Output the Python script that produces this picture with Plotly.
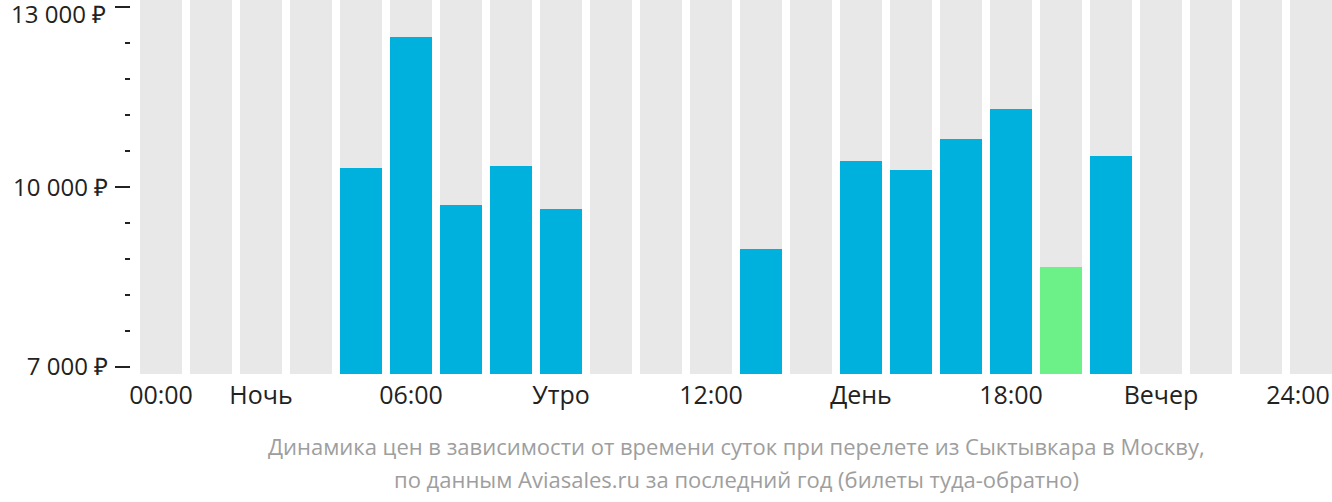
import plotly.graph_objects as go

hours = list(range(24))
prices = [None, None, None, None, 10319, 12505, 9702, 10353, 9636, None, None, None,
          8968, None, 10436, 10286, 10803, 11304, 8668, 10520, None, None, None, None]
cheapest_hour = 18

tick_pos = [0, 2, 5, 8, 11, 14, 17, 20, 22.74]
tick_text = ["00:00", "Ночь", "06:00", "Утро", "12:00", "День", "18:00", "Вечер", "24:00"]

y_ticks = [7000, 10000, 13000]
y_tick_text = ["7 000 ₽", "10 000 ₽", "13 000 ₽"]

Y_MIN = 6883
Y_MAX = 13122

caption_lines = [
    "Динамика цен в зависимости от времени суток при перелете из Сыктывкара в Москву,",
    "по данным Aviasales.ru за последний год (билеты туда-обратно)",
]

BLUE = "#00b1dd"
GREEN = "#6cf088"
GRAY = "#e8e8e8"
TEXT = "#222222"

W, H = 1332, 502
PLOT_LEFT = 140
PLOT_BOTTOM = 128
AXIS_POS = 130 / W
LABEL_RIGHT = 107 / W

colors = [GREEN if h == cheapest_hour else BLUE for h in hours]

fig = go.Figure()
fig.add_trace(go.Bar(
    x=hours, y=[Y_MAX - Y_MIN] * 24, base=Y_MIN,
    marker=dict(color=GRAY, line=dict(width=0)),
    hoverinfo="skip", showlegend=False,
))
fig.add_trace(go.Bar(
    x=hours, y=[(p - Y_MIN) if p is not None else None for p in prices], base=Y_MIN,
    marker=dict(color=colors, line=dict(width=0)),
    customdata=prices, hovertemplate="%{customdata} ₽<extra></extra>",
    showlegend=False,
))

annotations = []
for i, line in enumerate(caption_lines):
    annotations.append(dict(
        text=line, xref="paper", yref="paper", x=(PLOT_LEFT / W + 1) / 2,
        y=0, yshift=-72 - 33 * i, xanchor="center", yanchor="middle", showarrow=False,
        font=dict(size=22, color="#9e9e9e", family="Open Sans"), align="center",
    ))

# top tick label is nudged down to stay inside the picture (as in the reference)
tick_labels_shown = list(y_tick_text)
top_idx = y_ticks.index(max(y_ticks))
annotations.append(dict(
    text=y_tick_text[top_idx], xref="paper", yref="y", x=LABEL_RIGHT, y=y_ticks[top_idx],
    xanchor="right", yanchor="middle", yshift=-6, showarrow=False, borderpad=0,
    font=dict(size=24, color=TEXT, family="Open Sans"),
))
tick_labels_shown[top_idx] = ""

fig.update_layout(
    width=W, height=H,
    margin=dict(l=0, r=0, t=0, b=PLOT_BOTTOM, pad=0, autoexpand=False),
    barmode="overlay", bargap=0.16,
    plot_bgcolor="white", paper_bgcolor="white",
    font=dict(family="Open Sans", color=TEXT),
    xaxis=dict(
        domain=[PLOT_LEFT / W, 1],
        range=[-0.42, 23.42],
        tickmode="array", tickvals=tick_pos, ticktext=tick_text,
        ticks="", showgrid=False, zeroline=False, showline=False,
        tickfont=dict(size=25, color=TEXT),
        ticklabelstandoff=4,
        ticklabeloverflow="allow",
        automargin=False,
        fixedrange=True,
    ),
    yaxis=dict(
        range=[Y_MIN, Y_MAX],
        anchor="free", position=AXIS_POS,
        tickmode="array", tickvals=y_ticks, ticktext=tick_labels_shown,
        ticks="outside", ticklen=15, tickwidth=2, tickcolor=TEXT,
        minor=dict(dtick=600, tick0=7000, ticks="outside", ticklen=5, tickwidth=2,
                   tickcolor=TEXT, showgrid=False),
        showgrid=False, zeroline=False, showline=False,
        tickfont=dict(size=24, color=TEXT),
        ticklabelstandoff=2,
        ticklabeloverflow="allow",
        automargin=False,
        fixedrange=True,
    ),
    annotations=annotations,
)

fig.write_html("out.html", config={"displayModeBar": False},
               post_script="document.body.style.margin='0';document.body.style.overflow='hidden';")
